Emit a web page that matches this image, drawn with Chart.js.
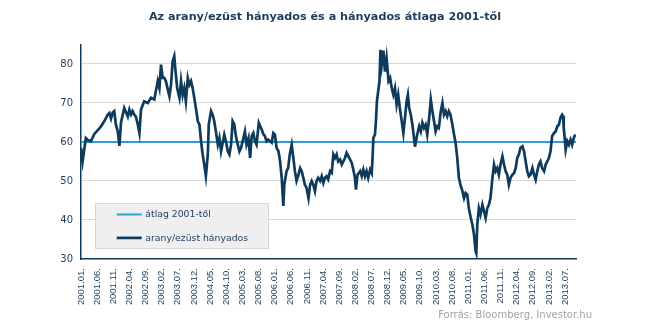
<!DOCTYPE html>
<html><head><meta charset="utf-8">
<script src="https://cdn.jsdelivr.net/npm/chart.js@4/dist/chart.umd.min.js"></script>
<style>html,body{margin:0;padding:0;background:#fff;overflow:hidden}canvas{display:block}</style>
</head><body>
<canvas id="c" width="645" height="336"></canvas>
<script>
const titleText = 'Az arany/ezüst hányados és a hányados átlaga 2001-től';
const sourceText = 'Forrás: Bloomberg, Investor.hu';
const seriesNames = ['átlag 2001-től', 'arany/ezüst hányados'];
const yTicks = [30, 40, 50, 60, 70, 80];
const tickMonths = [0,5,10,15,20,25,30,35,40,45,50,55,60,65,70,75,80,85,90,95,100,105,110,115,120,125,130,135,140,145,150];
const tickLabels = ['2001.01.','2001.06.','2001.11.','2002.04.','2002.09.','2003.02.','2003.07.','2003.12.','2004.05.','2004.10.',
  '2005.03.','2005.08.','2006.01.','2006.06.','2006.11.','2007.04.','2007.09.','2008.02.','2008.07.','2008.12.',
  '2009.05.','2009.10.','2010.03.','2010.08.','2011.01.','2011.06.','2011.11.','2012.04.','2012.09.','2013.02.','2013.07.'];
const averageValue = 60;
const monthEnd = 153.4;
// months elapsed since 2001.01 (x position of each reading)
const months = [
  0,0.5,1.0,1.5,2.1,3.1,4.1,5.2,6.2,7.2,
  8.3,8.8,9.3,9.8,10.3,10.8,11.4,11.9,12.4,13.4,
  14.5,15.0,15.5,16.0,16.5,17.0,17.6,18.1,18.6,19.6,
  20.7,21.7,22.7,23.8,24.3,24.8,25.3,25.8,26.3,26.9,
  27.4,27.9,28.4,28.9,29.2,29.8,30.5,31.0,31.5,32.0,
  32.5,33.1,33.6,34.1,34.6,35.1,35.6,36.2,36.7,37.2,
  37.7,38.2,38.7,39.3,39.6,40.3,40.8,41.3,41.8,42.4,
  42.9,43.4,44.4,44.9,45.5,46.0,46.5,47.0,47.5,48.0,
  48.6,49.1,49.6,50.1,50.8,51.3,51.9,52.4,52.9,53.4,
  53.9,54.4,55.1,56.0,56.5,57.0,57.5,58.0,59.1,59.6,
  60.1,60.6,61.2,61.7,62.2,62.7,63.0,63.7,64.2,64.7,
  65.3,65.8,66.3,66.8,67.4,67.9,68.4,68.9,69.4,69.9,
  70.5,71.0,71.5,72.0,72.5,73.0,73.5,74.1,74.6,75.1,
  75.6,76.1,76.6,77.2,77.7,78.2,78.7,79.2,79.7,80.3,
  80.8,81.3,81.8,82.3,82.8,83.4,83.9,84.4,84.9,85.2,
  85.7,86.5,87.0,87.5,88.0,88.5,89.0,89.6,90.1,90.4,
  90.6,91.1,91.4,91.7,92.1,92.5,92.8,93.2,93.7,94.2,
  94.7,95.3,95.8,96.3,96.8,97.3,97.8,98.3,98.8,99.4,
  99.9,100.4,100.9,101.3,101.7,102.2,102.7,103.2,103.5,104.2,
  104.8,105.3,105.8,106.3,106.8,107.3,107.9,108.4,108.9,109.4,
  109.9,110.4,110.9,111.5,112.0,112.5,113.0,113.5,114.0,114.5,
  115.1,115.6,116.1,116.6,117.1,117.6,118.2,118.7,119.2,119.7,
  120.2,120.8,121.3,121.8,122.3,122.5,122.8,123.3,123.8,124.4,
  124.9,125.4,125.9,126.4,126.9,127.5,128.0,128.5,129.0,129.5,
  130.0,130.6,131.1,131.6,132.1,132.6,133.1,133.7,134.2,134.7,
  135.2,135.7,136.2,136.8,137.3,137.8,138.3,138.8,139.3,139.9,
  140.4,140.9,141.4,141.9,142.4,142.9,143.5,144.0,144.5,145.0,
  145.5,146.0,146.6,147.1,147.6,148.1,148.6,149.1,149.4,149.6,
  149.9,150.2,150.7,151.2,151.7,152.2,152.7,153.2
];
const ratio = [
  58.5,55,58,61,60.5,60.2,62,63,64,65.3,
  67,67.4,66,67.5,67.9,64.5,62.7,59,65,68.7,
  66.5,68.3,67,67.9,67,66.5,64.5,62.3,68.3,70.4,
  70,71.3,70.9,75.6,73.8,79.8,76.4,76.4,75.6,73.4,
  71.7,74.7,80.7,82,79,73.8,71.3,75.6,72,73.8,
  70.4,76.4,74.7,75.6,73.8,71.3,68.7,65.3,64.5,60.2,
  56.8,54.2,51.2,56.8,64.5,67.9,67,65.3,62.7,59.3,
  61,57.6,61.9,60.2,57.6,56.8,59.3,65.3,64.5,61.5,
  59.3,57.6,58.5,60.2,62.7,59.3,61,55.9,61.5,62.3,
  60.2,59.3,64.9,63.2,62,61.5,60.2,60.6,59.8,62.3,
  61.9,58.5,57.6,55,50.8,43.6,49,52.5,53.3,56.8,
  59.3,55.9,52.5,50,51.6,53.3,52.5,50.8,49,48.2,
  45.6,49,50,49,47.4,50,50.8,50,51.2,49.5,
  50.8,51.2,50.4,52.5,52.1,56.8,55.9,56.8,55,55.5,
  54.2,55,55.9,57.2,56.4,55.5,54.6,52.9,50.8,47.8,
  51.6,52.5,51.2,52.9,51.2,52.5,50.8,52.9,52,56.8,
  61,61.9,65.3,70.4,73,75.6,83.6,79.8,83.4,78,
  81.5,75.6,76.4,73.8,72.1,73.8,69.6,72.1,68.7,65.3,
  62.3,66.2,70.4,72.1,68.7,67,64.4,61,58.8,61.9,
  64,62.7,64.9,63.6,64.4,61.9,66.2,70.9,67.9,65.3,
  62.7,64,63.6,67.9,70,67,67.9,66.6,67.9,67,
  64.4,61.9,59.7,55.9,50.8,49,47.4,45.6,46.9,46.5,
  43,40.5,38.8,36.2,32,31.5,38.8,43,41.4,43.9,
  42.2,40.5,43,43.9,45.6,50.8,54.2,52.5,53.3,51.6,
  54.2,56.3,54.2,52.5,51.6,49,50.8,51.6,52,53.3,
  55.9,56.8,58.5,58.9,57.6,55,52.5,51.2,51.6,53.3,
  51.6,50.3,52.5,54.2,55,53.3,52.5,54.2,55,55.9,
  57.6,61.5,62.3,62.7,64,64.4,66.2,67,66.6,63.6,
  61,58,60.2,59.3,60.6,59.3,61,61.9
];

const navy = '#0e3a5c';
const textNavy = '#1d3b5c';
const avgBlue = '#2d9fd3';

const ratioPoints = months.map((m, i) => ({x: m, y: ratio[i]}));
const avgPoints = [{x: 0, y: averageValue}, {x: monthEnd, y: averageValue}];

const titleDraw = {
  id: 'titleDraw',
  afterDraw(chart) {
    const {ctx} = chart;
    ctx.save();
    ctx.fillStyle = textNavy;
    ctx.font = 'bold 11.2px "DejaVu Sans"';
    ctx.textAlign = 'center';
    ctx.textBaseline = 'middle';
    ctx.fillText(titleText, 325, 17.5);
    ctx.restore();
  }
};

const boxLegend = {
  id: 'boxLegend',
  afterDraw(chart) {
    const {ctx, chartArea: a} = chart;
    const x = a.left + 14, y = a.top + 158.6, w = 174, h = 46;
    ctx.save();
    ctx.fillStyle = '#efefef';
    ctx.fillRect(x, y, w, h);
    ctx.strokeStyle = '#d6d6d6';
    ctx.lineWidth = 1;
    ctx.strokeRect(x + 0.5, y + 0.5, w - 1, h - 1);
    chart.data.datasets.forEach((ds, i) => {
      const ly = y + 11.5 + i * 23.4;
      ctx.strokeStyle = ds.borderColor;
      ctx.lineWidth = ds.borderWidth;
      ctx.beginPath();
      ctx.moveTo(x + 21.7, ly);
      ctx.lineTo(x + 46.7, ly);
      ctx.stroke();
      ctx.fillStyle = textNavy;
      ctx.font = '9.3px "DejaVu Sans"';
      ctx.textAlign = 'left';
      ctx.textBaseline = 'middle';
      ctx.fillText(ds.label, x + 50.3, ly + 0.5);
    });
    ctx.restore();
  }
};

const sourceNote = {
  id: 'sourceNote',
  afterDraw(chart) {
    const {ctx} = chart;
    ctx.save();
    ctx.fillStyle = '#a3a3a3';
    ctx.font = '10px "DejaVu Sans"';
    ctx.textAlign = 'right';
    ctx.textBaseline = 'middle';
    ctx.fillText(sourceText, 592, 315);
    ctx.restore();
  }
};

new Chart(document.getElementById('c'), {
  type: 'line',
  data: {
    datasets: [
      {label: seriesNames[0], data: avgPoints, borderColor: avgBlue, borderWidth: 2, pointRadius: 0, order: 1, tension: 0},
      {label: seriesNames[1], data: ratioPoints, borderColor: navy, borderWidth: 2.7, pointRadius: 0, order: 0, tension: 0}
    ]
  },
  options: {
    responsive: false,
    animation: false,
    devicePixelRatio: 1,
    layout: {padding: {left: 0, right: 69, top: 44.4, bottom: 0}},
    plugins: {
      legend: {display: false},
      tooltip: {enabled: false},
      title: {display: false}
    },
    scales: {
      x: {
        type: 'linear',
        min: 0,
        max: monthEnd,
        afterBuildTicks: s => { s.ticks = tickMonths.map(v => ({value: v})); },
        afterFit: s => { s.height = 77; },
        grid: {display: false, drawTicks: false},
        border: {display: true, color: navy, width: 1.5},
        ticks: {
          autoSkip: false,
          minRotation: 90,
          maxRotation: 90,
          padding: 9,
          color: textNavy,
          font: {family: 'Liberation Sans', size: 9.5},
          callback: (v, i) => tickLabels[i]
        }
      },
      y: {
        min: 30,
        max: 85,
        afterBuildTicks: s => { s.ticks = yTicks.map(v => ({value: v})); },
        afterFit: s => { s.width = 81; },
        grid: {
          color: c => (c.tick && c.tick.value === 30) ? 'rgba(0,0,0,0)' : '#d9d9d9',
          lineWidth: 1,
          drawTicks: false
        },
        border: {display: true, color: navy, width: 1.5},
        ticks: {
          padding: 8,
          color: textNavy,
          font: {family: 'DejaVu Sans', size: 10}
        }
      }
    }
  },
  plugins: [titleDraw, boxLegend, sourceNote]
});
</script>
</body></html>
